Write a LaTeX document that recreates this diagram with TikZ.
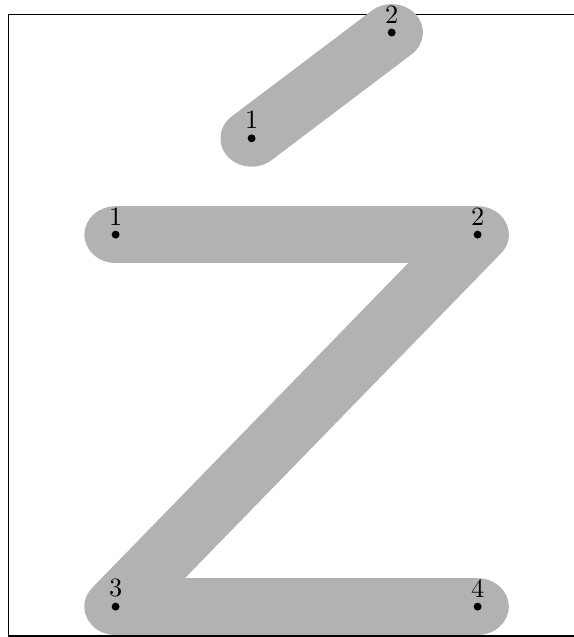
\documentclass[tikz,border=0pt]{standalone}
\begin{document}
\begin{tikzpicture}[x=0.379pt,y=-0.379pt,
  glyphstroke/.style={line width=21.5pt,draw=black!30,line cap=round,line join=round},
  dotmark/.style={circle,fill=black,inner sep=0pt,minimum size=3pt},
  numlabel/.style={above}]
\useasboundingbox (0,0) rectangle (574,637);
\coordinate (fa) at (578,14.3);
\coordinate (fb) at (8.3,14.3);
\coordinate (fc) at (8.3,636);
\coordinate (fd) at (578,636);
\draw[line width=0.4pt] (fa) -- (fb) -- (fc) -- (fd);
\begin{scope}[transform canvas={xscale=1.1}]
  \coordinate (s1) at (115.6/1.1,234.6);
  \coordinate (s2) at (477.6/1.1,234.6);
  \coordinate (s3) at (115.6/1.1,606.6);
  \coordinate (s4) at (477.6/1.1,606.6);
  \coordinate (t1) at (251.6/1.1,138.3);
  \coordinate (t2) at (391.7/1.1,32.5);
  \draw[glyphstroke] (s1) -- (s2) -- (s3) -- (s4);
  \draw[glyphstroke] (t1) -- (t2);
\end{scope}
\coordinate (z1) at (115.6,234.6);
\coordinate (z2) at (477.6,234.6);
\coordinate (z3) at (115.6,606.6);
\coordinate (z4) at (477.6,606.6);
\coordinate (a1) at (251.6,138.3);
\coordinate (a2) at (391.7,32.5);
\foreach \p/\t in {z1/1,z2/2,z3/3,z4/4,a1/1,a2/2}{
  \node[dotmark] (d\p) at (\p) {};
  \node[numlabel] (l\p) at (\p) {\t};
}
\end{tikzpicture}
\end{document}
